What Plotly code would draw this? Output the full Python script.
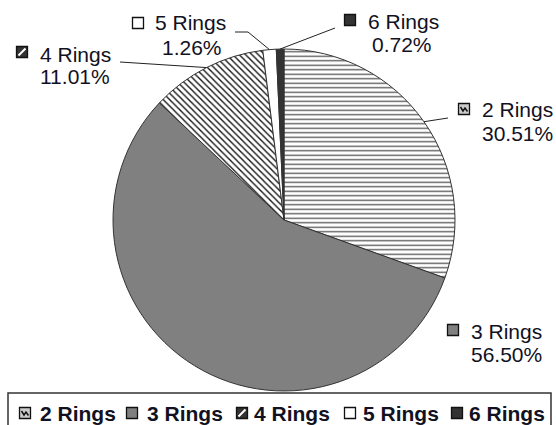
import plotly.graph_objects as go
import math

categories = ["2 Rings", "3 Rings", "4 Rings", "5 Rings", "6 Rings"]
values = [30.51, 56.50, 11.01, 1.26, 0.72]
fill_colors = ["white", "#808080", "white", "white", "#333333"]
patterns = ["-", "", "\\", "", ""]
pattern_fg = ["#5a5a5a", "#808080", "#111111", "white", "#333333"]

W, H = 556, 425
cx, cy, R = 284, 220, 171
FONT = "Liberation Sans, Arial, sans-serif"
TXT = "#111122"

fig = go.Figure()
fig.add_trace(go.Pie(
    labels=categories, values=values, sort=False, direction="clockwise", rotation=0,
    textinfo="none", hoverinfo="label+percent", showlegend=False,
    marker=dict(colors=fill_colors,
                line=dict(color="#333333", width=1),
                pattern=dict(shape=patterns, fgcolor=pattern_fg, size=4.5, solidity=0.3)),
    domain=dict(x=[(cx - R) / W, (cx + R) / W], y=[(H - cy - R) / H, (H - cy + R) / H]),
))


def px(x):
    return x / W


def py(y):
    return 1 - y / H


# outside labels: (name x, name y, pct x, pct y, key x, key y)
label_layout = {
    "2 Rings": (517, 110, 517, 133, 464, 109),
    "3 Rings": (506, 331, 506, 354, 453, 330),
    "4 Rings": (75, 54, 75, 77, 22, 52),
    "5 Rings": (191, 23, 192, 47, 138, 23),
    "6 Rings": (403, 21, 402, 45, 350, 20),
}
key_fill = {"2 Rings": "#cccccc", "3 Rings": "#808080", "4 Rings": "#333333",
            "5 Rings": "white", "6 Rings": "#333333"}

annotations = []
shapes = []


def add_key(cat, kx, ky, s=5.5):
    shapes.append(dict(type="rect", xref="paper", yref="paper",
                       x0=px(kx - s), x1=px(kx + s), y0=py(ky + s), y1=py(ky - s),
                       line=dict(color="#111111", width=1.3), fillcolor=key_fill[cat]))
    if cat == "4 Rings":
        shapes.append(dict(type="line", xref="paper", yref="paper",
                           x0=px(kx - s + 2), x1=px(kx + s - 2), y0=py(ky + s - 2), y1=py(ky - s + 2),
                           line=dict(color="white", width=2)))
    if cat == "2 Rings":
        shapes.append(dict(type="path", xref="paper", yref="paper",
                           path=(f"M {px(kx-3.5)},{py(ky-2)} L {px(kx-1)},{py(ky+2)} "
                                 f"L {px(kx+1)},{py(ky-1)} L {px(kx+3.5)},{py(ky+2.5)}"),
                           line=dict(color="#111111", width=1.5)))


for cat, v in zip(categories, values):
    nx, ny, qx, qy, kx, ky = label_layout[cat]
    annotations.append(dict(x=px(nx), y=py(ny), xref="paper", yref="paper", showarrow=False,
                            xanchor="center", yanchor="middle", text=cat,
                            font=dict(family=FONT, size=21, color=TXT)))
    annotations.append(dict(x=px(qx), y=py(qy), xref="paper", yref="paper", showarrow=False,
                            xanchor="center", yanchor="middle", text=f"{v:.2f}%",
                            font=dict(family=FONT, size=21, color=TXT)))
    add_key(cat, kx, ky)

# leader lines start at each slice's mid-angle on the pie edge
cum = 0
total = sum(values)
mid = {}
for cat, v in zip(categories, values):
    a = (cum + v / 2) / total * 2 * math.pi
    mid[cat] = (cx + R * math.sin(a), cy - R * math.cos(a))
    cum += v

leaders = {
    "6 Rings": [(335, 28)],
    "5 Rings": [(248, 32), (235, 32)],
    "4 Rings": [(120, 62)],
    "2 Rings": [(448, 118)],
}
for cat, pts in leaders.items():
    sx, sy = mid[cat]
    path = f"M {px(sx)},{py(sy)}" + "".join(f" L {px(x)},{py(y)}" for x, y in pts)
    shapes.append(dict(type="path", xref="paper", yref="paper", path=path,
                       line=dict(color="#222222", width=1)))

# legend box (bottom)
shapes.append(dict(type="rect", xref="paper", yref="paper",
                   x0=px(8), x1=px(551), y0=py(440), y1=py(393),
                   line=dict(color="#333333", width=1.5), fillcolor="rgba(0,0,0,0)"))
legend_key_x = [25, 132, 242, 350, 457]
legend_text_x = [38, 145, 252, 361, 467]
legend_y = 413
for cat, kx, tx in zip(categories, legend_key_x, legend_text_x):
    add_key(cat, kx, legend_y)
    annotations.append(dict(x=px(tx), y=py(legend_y), xref="paper", yref="paper", showarrow=False,
                            xanchor="left", yanchor="middle", text=f"<b>{cat}</b>",
                            font=dict(family=FONT, size=21, color=TXT)))

fig.update_layout(
    width=W, height=H,
    margin=dict(l=0, r=0, t=0, b=0),
    paper_bgcolor="white", plot_bgcolor="white",
    font=dict(family=FONT, color=TXT),
    showlegend=False,
    annotations=annotations,
    shapes=shapes,
)

fig.write_html("out.html", config={"displayModeBar": False},
               post_script="document.body.style.margin='0';document.body.style.overflow='hidden';")
